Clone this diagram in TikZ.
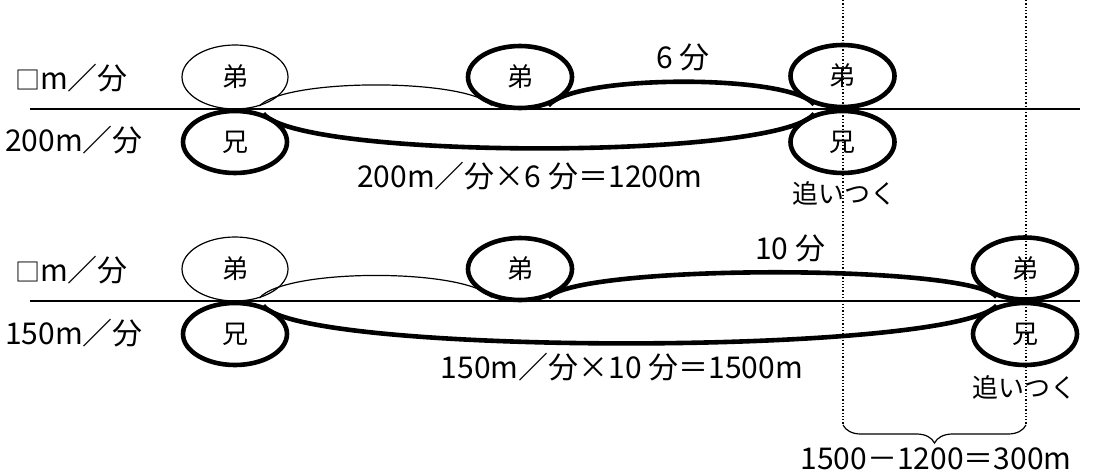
\documentclass[tikz,border=0pt]{standalone}
\usepackage{fontspec}
\newfontfamily\jp{Noto Sans CJK JP}
\usetikzlibrary{shapes.geometric,decorations.pathreplacing}
\newcommand{\blanksq}{{\fontsize{25}{25}\selectfont □}}
\begin{document}
\begin{tikzpicture}[x=1pt,y=-1pt,
  thinell/.style={ellipse, draw, line width=1.2pt, minimum width=106pt, minimum height=64pt, inner sep=0pt, font=\jp\fontsize{26}{26}\selectfont},
  thickell/.style={thinell, line width=4.6pt, minimum width=104pt, minimum height=62pt},
  lbl/.style={font=\jp\fontsize{30}{30}\selectfont, inner sep=0pt},
  catchlbl/.style={font=\jp\fontsize{26}{26}\selectfont, inner sep=0pt},
  thinarc/.style={line width=1.2pt},
  thickarc/.style={line width=4.6pt},
  groundline/.style={line width=1.4pt},
  guide/.style={line width=1.3pt, dash pattern=on 1.3pt off 2pt},
  bracestyle/.style={line width=1.2pt, decorate, decoration={brace, mirror, amplitude=18pt}}
]
\useasboundingbox (0,0) rectangle (1097,476);
\fill[white] (0,0) rectangle (1097,476);

% ground lines
\coordinate (g1a) at (30,109);
\coordinate (g1b) at (1080,109);
\coordinate (g2a) at (30,301);
\coordinate (g2b) at (1080,301);
\draw[groundline] (g1a) -- (g1b);
\draw[groundline] (g2a) -- (g2b);

% ---------- top row ----------
\node[thinell]  (d1) at (235,77)  {弟};
\node[thickell] (a1) at (235,142) {兄};
\node[thickell] (d2) at (520,77)  {弟};
\node[thickell] (d3) at (842.5,76)  {弟};
\node[thickell] (a3) at (842.5,142) {兄};

\draw[thinarc] (d1.-50) .. controls (285,78) and (465,78) .. (d2.-135);
\draw[thickarc] (d2.-45) .. controls (575,74) and (790,74) .. (d3.-135);
\draw[thickarc] (a1.45) .. controls (300,160) and (780,160) .. (a3.135);

\node[lbl, anchor=east] (r1) at (128,78) {\blanksq m／分};
\node[lbl, anchor=east] (s1) at (143,140) {200m／分};
\node[lbl] (t1) at (683,57) {6 分};
\node[lbl] (f1) at (530,176) {200m／分×6 分＝1200m};
\node[catchlbl] (c1) at (844,193) {追いつく};

% ---------- bottom row ----------
\node[thinell]  (d4) at (235,269) {弟};
\node[thickell] (a4) at (235,334) {兄};
\node[thickell] (d5) at (520,269) {弟};
\node[thickell] (d6) at (1025,268.5) {弟};
\node[thickell] (a6) at (1025,334) {兄};

\draw[thinarc] (d4.-50) .. controls (285,268) and (465,268) .. (d5.-135);
\draw[thickarc] (d5.-45) .. controls (580,264) and (970,264) .. (d6.-135);
\draw[thickarc] (a4.45) .. controls (300,356) and (950,356) .. (a6.135);

\node[lbl, anchor=east] (r2) at (128,270) {\blanksq m／分};
\node[lbl, anchor=east] (s2) at (143,333) {150m／分};
\node[lbl] (t2) at (790,248) {10 分};
\node[lbl] (f2) at (622,367) {150m／分×10 分＝1500m};
\node[catchlbl] (c2) at (1024,387) {追いつく};

% ---------- guides and brace ----------
\coordinate (v1t) at (843,0);
\coordinate (v1b) at (843,425);
\coordinate (v2t) at (1026,0);
\coordinate (v2b) at (1026,425);
\draw[guide] (v1t) -- (v1b);
\draw[guide] (v2t) -- (v2b);
\draw[bracestyle] (v1b) -- (v2b);
\node[lbl] (diff) at (936,459) {1500－1200＝300m};
\end{tikzpicture}
\end{document}
